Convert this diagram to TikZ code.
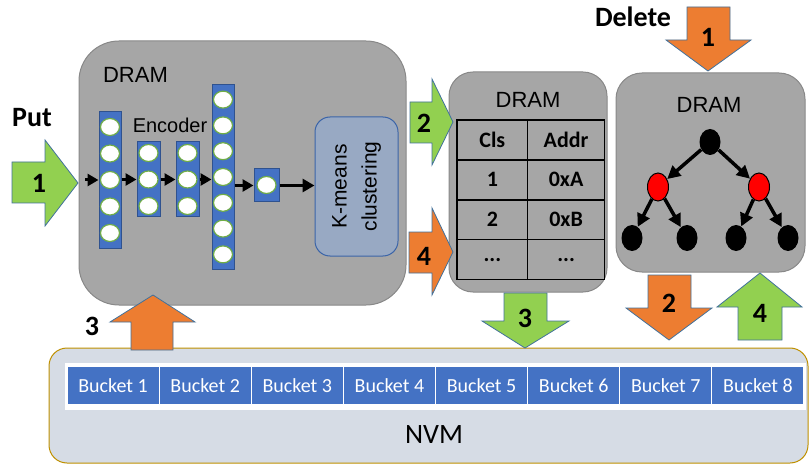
\documentclass[tikz,border=0pt]{standalone}
\usepackage{fontspec}
\setmainfont{Carlito}
\newfontfamily\arialfont{Liberation Sans}
\usetikzlibrary{arrows.meta}
\usetikzlibrary{matrix}
\usetikzlibrary{shapes.geometric}
\definecolor{dramgray}{HTML}{A6A6A6}
\definecolor{dramedge}{HTML}{888888}
\definecolor{layerblue}{HTML}{4472C4}
\definecolor{layeredge}{HTML}{2F528F}
\definecolor{cellgreen}{HTML}{70AD47}
\definecolor{putgreen}{HTML}{92D050}
\definecolor{delorange}{HTML}{ED7D31}
\definecolor{arrowedge}{HTML}{41719C}
\definecolor{kmfill}{HTML}{98A9C3}
\definecolor{kmedge}{HTML}{3B64A8}
\definecolor{nvmfill}{HTML}{D6DCE5}
\definecolor{nvmedge}{HTML}{BF9000}

\begin{document}
\begin{tikzpicture}[x=1pt, y=-1pt, every node/.style={inner sep=0pt}]
	\tikzstyle{dram}=[draw=dramedge, fill=dramgray, line width=1pt]
	\tikzstyle{dramtitle}=[font=\arialfont\fontsize{22}{26}\selectfont]
	\tikzstyle{layer}=[draw=layeredge, fill=layerblue, line width=1pt]
	\tikzstyle{cell}=[ellipse, draw=cellgreen, fill=white, line width=1.2pt, minimum width=19pt, minimum height=17pt]
	\tikzstyle{encarrow}=[line width=3pt, -{Triangle[length=11pt,width=12pt]}]
	\tikzstyle{treearrow}=[line width=3.5pt, -{Triangle[length=13pt,width=13pt]}]
	\tikzstyle{blacknode}=[ellipse, fill=black, minimum width=21pt, minimum height=26pt]
	\tikzstyle{rednode}=[ellipse, fill=red, draw=black, line width=1pt, minimum width=21pt, minimum height=28pt]
	\tikzstyle{greenblock}=[fill=putgreen, draw=arrowedge, line width=0.8pt]
	\tikzstyle{orangeblock}=[fill=delorange, draw=arrowedge, line width=0.8pt]
	\tikzstyle{steplabel}=[font=\bfseries\fontsize{28}{32}\selectfont]
	\tikzstyle{bucket}=[fill=layerblue, draw=white, line width=1.2pt, minimum width=92.125pt, minimum height=39pt, text=white, font=\fontsize{20}{24}\selectfont]

	\useasboundingbox (0,0) rectangle (811,465);

	% Draw the DRAM boxes and the NVM
	\node[dram, rounded corners=40pt, minimum width=327pt, minimum height=264pt] (dramenc) at (242.5,173) {};
	\node[dram, rounded corners=24pt, minimum width=158pt, minimum height=220pt] (dramtab) at (528,182) {};
	\node[dram, rounded corners=26pt, minimum width=189pt, minimum height=199pt] (dramtree) at (710.5,172.5) {};
	\node[draw=nvmedge, fill=nvmfill, line width=1pt, rounded corners=18pt, minimum width=759pt, minimum height=115pt] (nvm) at (428.5,405.5) {};

	\node[dramtitle] (t1) at (135.5,75) {DRAM};
	\node[dramtitle] (t2) at (528,100) {DRAM};
	\node[dramtitle] (t3) at (709,105) {DRAM};

	% Draw the encoder
	\node[font=\arialfont\fontsize{20}{24}\selectfont] (enc) at (170,125) {Encoder};
	\node[layer, minimum width=22pt, minimum height=136pt] (l1) at (110,180) {};
	\node[layer, minimum width=23pt, minimum height=75pt] (l2) at (148.5,179.5) {};
	\node[layer, minimum width=23pt, minimum height=75pt] (l3) at (187.5,179.5) {};
	\node[layer, minimum width=22pt, minimum height=184pt] (l4) at (223,177) {};
	\node[layer, minimum width=25pt, minimum height=33pt] (l5) at (266.5,185.5) {};
	\foreach \k in {0,...,4}
		\node[cell] (l1c\k) at (110,{127+26.5*\k}) {};
	\foreach \k in {0,...,2} {
		\node[cell] (l2c\k) at (148.5,{153+26.5*\k}) {};
		\node[cell] (l3c\k) at (187.5,{153+26.5*\k}) {};
	}
	\foreach \k in {0,...,6}
		\node[cell] (l4c\k) at (223,{99.6+25.8*\k}) {};
	\node[cell] (l5c) at (266.5,185) {};

	% Draw the clustering
	\node[draw=kmedge, fill=kmfill, line width=1pt, rounded corners=15pt, rotate=90, minimum width=139pt, minimum height=83pt, align=center, font=\arialfont\fontsize{21}{30}\selectfont] (km) at (356.5,186.5) {K-means\\clustering};

	% Draw arrows in the encoder
	\coordinate (encin) at (85,180);
	\draw[encarrow] (encin) -- (encin -| l1.west);
	\draw[encarrow] (l1.east |- l2) -- (l2.west);
	\draw[encarrow] (l2.east) -- (l3.west);
	\draw[encarrow] (l3.east) -- (l3.east -| l4.west);
	\draw[encarrow] (l4.east |- l5) -- (l5.west);
	\draw[line width=3.5pt, -{Triangle[length=12pt,width=13pt]}] (l5.east) -- (l5.east -| km.north);

	% Draw the table
	\matrix[matrix of nodes, anchor=north west, column sep=-1.5pt, row sep=-1.5pt,
		nodes={draw, line width=1.5pt, minimum height=39.9pt, font=\bfseries\fontsize{22}{26}\selectfont},
		column 1/.style={nodes={minimum width=70.75pt}},
		column 2/.style={nodes={minimum width=76.75pt}}] (tab) at (456,119) {
		Cls & Addr \\
		1 & 0xA \\
		2 & 0xB \\
		... & ... \\
	};

	% Draw the tree
	\node[blacknode] (root) at (710,142) {};
	\node[rednode] (r1) at (658,187) {};
	\node[rednode] (r2) at (759,187) {};
	\node[blacknode] (leaf1) at (632,238) {};
	\node[blacknode] (leaf2) at (687,238) {};
	\node[blacknode] (leaf3) at (736,238) {};
	\node[blacknode] (leaf4) at (788,238) {};
	\draw[treearrow] (root) -- (r1);
	\draw[treearrow] (root) -- (r2);
	\draw[treearrow] (r1) -- (leaf1);
	\draw[treearrow] (r1) -- (leaf2);
	\draw[treearrow] (r2) -- (leaf3);
	\draw[treearrow] (r2) -- (leaf4);

	% Draw the buckets
	\node[fill=white, minimum width=741pt, minimum height=47pt] (brow) at (435.5,386.5) {};
	\foreach \i in {1,...,8}
		\node[bucket] (b\i) at ({67+92.125*(\i-0.5)},385.5) {Bucket \i};
	\node[font=\fontsize{28}{32}\selectfont] (nvmtext) at (434,435) {NVM};

	% Draw the step arrows
	\draw[greenblock] (12,162) -- (45,162) -- (45,140) -- (78,183) -- (45,226) -- (45,203) -- (12,203) -- cycle;
	\draw[greenblock] (410,102) -- (432,102) -- (432,79) -- (453,122) -- (432,165) -- (432,143) -- (410,143) -- cycle;
	\draw[orangeblock] (409,232) -- (432,232) -- (432,208) -- (453,252) -- (432,295) -- (432,273) -- (409,273) -- cycle;
	\draw[orangeblock] (687,7) -- (730,7) -- (730,40) -- (751,40) -- (708,71) -- (666,40) -- (687,40) -- cycle;
	\draw[orangeblock] (131,350) -- (131,322) -- (110,322) -- (153,295) -- (195,322) -- (173,322) -- (173,350) -- cycle;
	\draw[greenblock] (504,293) -- (547,293) -- (547,321) -- (569,321) -- (525,348) -- (482,321) -- (504,321) -- cycle;
	\draw[orangeblock] (648,275) -- (691,275) -- (691,308) -- (712,308) -- (669,340) -- (626,308) -- (648,308) -- cycle;
	\draw[greenblock] (738,340) -- (738,307) -- (717,307) -- (760,273) -- (802,307) -- (782,307) -- (782,340) -- cycle;

	% Annotate the steps
	\node[steplabel] (put) at (32,118) {Put};
	\node[steplabel] (del) at (633,17) {Delete};
	\node[steplabel] (put1) at (39,183) {1};
	\node[steplabel] (put2) at (424,123) {2};
	\node[steplabel] (put3) at (92,326) {3};
	\node[steplabel] (del1) at (708,37) {1};
	\node[steplabel] (del2) at (669,303) {2};
	\node[steplabel] (del3) at (525,318) {3};
	\node[steplabel] (del4) at (424,256) {4};
	\node[steplabel] (put4) at (760,313) {4};
\end{tikzpicture}
\end{document}
